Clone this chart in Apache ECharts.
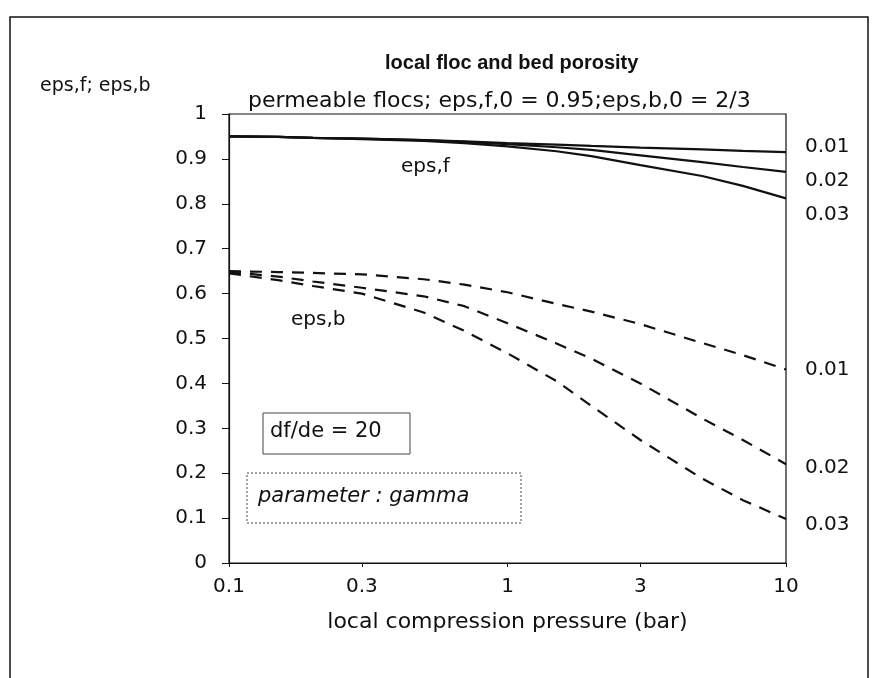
<!DOCTYPE html>
<html>
<head>
<meta charset="utf-8">
<script src="https://cdn.jsdelivr.net/npm/echarts@6/dist/echarts.min.js"></script>
<style>
  html, body { margin: 0; padding: 0; background: #fff; }
  #chart { width: 873px; height: 678px; }
</style>
</head>
<body>
<div id="chart"></div>
<script>
// local compression pressure (bar)
const pressure = [0.1, 0.15, 0.2, 0.3, 0.5, 0.7, 1, 1.5, 2, 3, 5, 7, 10]
const gammas = ['0.01', '0.02', '0.03']

// floc porosity eps,f (solid)
const epsF001 = [0.95, 0.949, 0.947, 0.945, 0.942, 0.939, 0.935, 0.932, 0.929, 0.925, 0.921, 0.918, 0.915]
const epsF002 = [0.95, 0.949, 0.947, 0.945, 0.942, 0.938, 0.933, 0.926, 0.92, 0.908, 0.893, 0.882, 0.871]
const epsF003 = [0.95, 0.949, 0.947, 0.944, 0.94, 0.935, 0.928, 0.917, 0.906, 0.886, 0.862, 0.84, 0.812]

// bed porosity eps,b (dashed)
const epsB001 = [0.65, 0.648, 0.646, 0.643, 0.632, 0.62, 0.603, 0.577, 0.56, 0.532, 0.49, 0.463, 0.431]
const epsB002 = [0.648, 0.638, 0.627, 0.613, 0.594, 0.572, 0.534, 0.489, 0.455, 0.4, 0.322, 0.274, 0.22]
const epsB003 = [0.645, 0.63, 0.617, 0.6, 0.558, 0.517, 0.467, 0.405, 0.35, 0.274, 0.188, 0.14, 0.098]

const xTicks = [0.1, 0.3, 1, 3, 10]

const FONT = '"DejaVu Sans", sans-serif'
const BOLD_FONT = '"Liberation Sans", Arial, sans-serif'

function pairs(ys) {
  return pressure.map((x, i) => [x, ys[i]])
}

function lineSeries(ys, gamma, dashed, labelDy) {
  return {
    type: 'line',
    data: pairs(ys),
    showSymbol: false,
    silent: true,
    lineStyle: { color: '#111', width: 2.2, type: dashed ? [12, 9] : 'solid' },
    endLabel: {
      show: true,
      formatter: () => gamma,
      color: '#111',
      fontFamily: FONT,
      fontSize: 20,
      offset: [11, labelDy],
    },
    z: 3,
  }
}

const chart = echarts.init(document.getElementById('chart'))

chart.setOption({
  animation: false,
  backgroundColor: '#fff',
  textStyle: { fontFamily: FONT },
  title: [
    {
      text: 'local floc and bed porosity',
      left: 380,
      top: 48,
      textStyle: { fontFamily: BOLD_FONT, fontSize: 20, fontWeight: 'bold', color: '#111' },
    },
    {
      text: 'permeable flocs; eps,f,0 = 0.95;eps,b,0 = 2/3',
      left: 243,
      top: 85,
      textStyle: { fontFamily: FONT, fontSize: 22, fontWeight: 'normal', color: '#111' },
    },
  ],
  grid: {
    left: 229, right: 87, top: 114, bottom: 115,
    show: true, borderColor: '#111', borderWidth: 1.2, backgroundColor: 'transparent',
  },
  xAxis: {
    type: 'log',
    logBase: 10,
    min: 0.1,
    max: 10,
    name: 'local compression pressure (bar)',
    nameLocation: 'middle',
    nameGap: 48,
    nameTextStyle: { fontFamily: FONT, fontSize: 22, color: '#111' },
    axisLine: { lineStyle: { color: '#111', width: 1.2 } },
    axisTick: { show: true, length: 4, customValues: xTicks, lineStyle: { color: '#111' } },
    minorTick: { show: false },
    splitLine: { show: false },
    axisLabel: {
      customValues: xTicks,
      formatter: (v) => String(v),
      color: '#111',
      fontFamily: FONT,
      fontSize: 20,
      margin: 14,
    },
  },
  yAxis: {
    type: 'value',
    min: 0,
    max: 1,
    interval: 0.1,
    name: 'eps,f; eps,b',
    nameLocation: 'end',
    nameGap: 18,
    nameTextStyle: { fontFamily: FONT, fontSize: 19, color: '#111', align: 'left', padding: [0, 0, 0, -189] },
    axisLine: { show: true, lineStyle: { color: '#111', width: 1.2 } },
    axisTick: { show: true, length: 7, lineStyle: { color: '#111' } },
    splitLine: { show: false },
    axisLabel: { color: '#111', fontFamily: FONT, fontSize: 20, margin: 22 },
  },
  series: [
    lineSeries(epsF001, gammas[0], false, -5),
    lineSeries(epsF002, gammas[1], false, 9),
    lineSeries(epsF003, gammas[2], false, 16),
    lineSeries(epsB001, gammas[0], true, 0),
    lineSeries(epsB002, gammas[1], true, 4),
    lineSeries(epsB003, gammas[2], true, 6),
  ],
  graphic: [
    {
      type: 'rect',
      shape: { x: 10, y: 17, width: 858, height: 700 },
      style: { fill: 'none', stroke: '#111', lineWidth: 1.5 },
      silent: true,
    },
    {
      type: 'text', x: 401, y: 157,
      style: { text: 'eps,f', font: '20px ' + FONT, fill: '#111' },
    },
    {
      type: 'text', x: 291, y: 310,
      style: { text: 'eps,b', font: '20px ' + FONT, fill: '#111' },
    },
    {
      type: 'rect',
      shape: { x: 263, y: 413, width: 147, height: 41 },
      style: { fill: 'none', stroke: '#444', lineWidth: 1 },
    },
    {
      type: 'text', x: 270, y: 421,
      style: { text: 'df/de = 20', font: '21px ' + FONT, fill: '#111' },
    },
    {
      type: 'rect',
      shape: { x: 247, y: 473, width: 274, height: 50 },
      style: { fill: 'none', stroke: '#444', lineWidth: 1, lineDash: [2, 2] },
    },
    {
      type: 'text', x: 258, y: 486,
      style: { text: 'parameter : gamma', font: 'italic 21px ' + FONT, fill: '#111' },
    },
  ],
})
</script>
</body>
</html>
